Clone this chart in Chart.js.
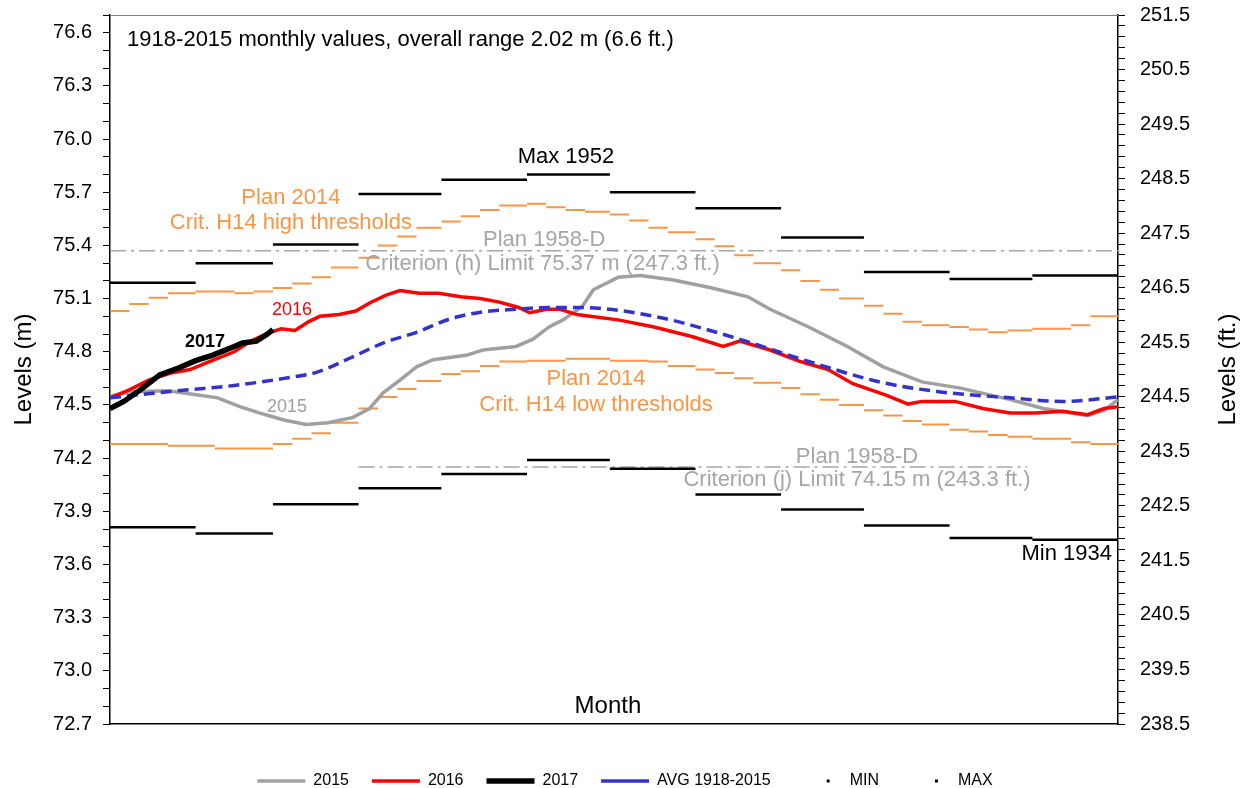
<!DOCTYPE html>
<html>
<head>
<meta charset="utf-8">
<script src="https://cdn.jsdelivr.net/npm/chart.js@4"></script>
<style>
  html, body { margin: 0; padding: 0; background: #fff; }
</style>
</head>
<body>
<canvas id="chart" width="1250" height="788"></canvas>
<script>
const FONT = "'Liberation Sans', Arial, sans-serif"
const ORANGE = '#F79646'
const GREY_TEXT = '#A6A6A6'

// month layout (day of year)
const months = ['J', 'F', 'M', 'A', 'M', 'J', 'J', 'A', 'S', 'O', 'N', 'D']
const monthStart = [0, 31, 59, 90, 120, 151, 181, 212, 243, 273, 304, 334, 365]

// daily levels (m), sampled off the chart
const days2015 = [0, 8, 21, 30, 39, 47, 54, 63, 71, 79, 88, 94, 99, 105, 111, 117, 129, 135, 147, 153, 159, 164, 171, 175, 184, 192, 204, 218, 231, 239, 253, 267, 280, 294, 308, 326, 338, 354, 360, 365]
const levels2015 = [74.55, 74.575, 74.58, 74.56, 74.54, 74.49, 74.455, 74.415, 74.39, 74.40, 74.43, 74.48, 74.57, 74.64, 74.715, 74.755, 74.78, 74.81, 74.83, 74.87, 74.94, 74.98, 75.055, 75.15, 75.22, 75.23, 75.205, 75.16, 75.11, 75.04, 74.94, 74.83, 74.715, 74.63, 74.595, 74.53, 74.48, 74.44, 74.47, 74.53]

const days2016 = [0, 7, 14, 22, 29, 36, 45, 51, 58, 62, 67, 72, 76, 83, 89, 94, 100, 105, 112, 119, 127, 134, 141, 148, 152, 158, 163, 169, 184, 197, 211, 222, 228, 239, 250, 260, 269, 281, 289, 294, 306, 316, 326, 335, 345, 354, 360, 365]
const levels2016 = [74.54, 74.585, 74.64, 74.68, 74.70, 74.745, 74.80, 74.86, 74.91, 74.93, 74.92, 74.97, 75.00, 75.01, 75.03, 75.075, 75.12, 75.145, 75.13, 75.13, 75.11, 75.10, 75.08, 75.05, 75.02, 75.04, 75.04, 75.01, 74.98, 74.94, 74.885, 74.83, 74.86, 74.81, 74.745, 74.70, 74.62, 74.555, 74.505, 74.52, 74.52, 74.48, 74.455, 74.455, 74.465, 74.445, 74.48, 74.49]

const days2017 = [0, 5, 11, 18, 25, 31, 37, 45, 48, 53, 57, 59]
const levels2017 = [74.48, 74.52, 74.585, 74.67, 74.71, 74.75, 74.78, 74.83, 74.85, 74.86, 74.90, 74.925]

const daysAvg = [0, 21, 45, 63, 75, 87, 99, 111, 123, 135, 147, 159, 170, 197, 225, 253, 280, 300, 326, 345, 365]
const levelsAvg = [74.54, 74.575, 74.61, 74.65, 74.685, 74.765, 74.85, 74.91, 74.985, 75.025, 75.04, 75.05, 75.05, 75.00, 74.885, 74.745, 74.625, 74.575, 74.54, 74.52, 74.545]

// monthly extremes 1918-2015 (m)
const monthlyMin = [73.81, 73.775, 73.94, 74.03, 74.11, 74.19, 74.14, 73.995, 73.91, 73.82, 73.75, 73.74]
const monthlyMax = [75.19, 75.30, 75.405, 75.69, 75.77, 75.80, 75.70, 75.61, 75.445, 75.25, 75.21, 75.23]

// Plan 2014 criterion H14 thresholds, by quarter-month (m)
const h14High = [75.03, 75.07, 75.105, 75.13, 75.14, 75.14, 75.13, 75.14, 75.16, 75.185, 75.22, 75.275,
  75.33, 75.40, 75.45, 75.50, 75.535, 75.565, 75.60, 75.625, 75.635, 75.615, 75.60, 75.59,
  75.575, 75.54, 75.50, 75.475, 75.435, 75.395, 75.345, 75.30, 75.26, 75.20, 75.15, 75.10,
  75.06, 75.015, 74.97, 74.95, 74.94, 74.925, 74.91, 74.92, 74.93, 74.93, 74.95, 75.00]
const h14Low = [74.28, 74.28, 74.28, 74.27, 74.27, 74.255, 74.255, 74.255, 74.28, 74.31, 74.34, 74.40,
  74.48, 74.545, 74.59, 74.635, 74.675, 74.69, 74.72, 74.745, 74.75, 74.75, 74.76, 74.76,
  74.75, 74.75, 74.745, 74.72, 74.70, 74.68, 74.65, 74.625, 74.595, 74.56, 74.53, 74.50,
  74.47, 74.44, 74.41, 74.39, 74.36, 74.35, 74.33, 74.32, 74.31, 74.31, 74.29, 74.28]

// Plan 1958-D limits (m)
const critH = 75.37
const critJ = 74.15

const monthMids = months.map((m, i) => (monthStart[i] + monthStart[i + 1]) / 2)
const qmBounds = []
for (let m = 0; m < 12; m++) {
  const s = monthStart[m]
  qmBounds.push(s, s + 7, s + 14, s + 21)
}
qmBounds.push(365)

function series (days, levels) {
  return days.map((d, i) => ({ x: d, y: levels[i] }))
}

function steps (bounds, values) {
  const pts = []
  values.forEach((v, i) => {
    pts.push({ x: bounds[i], y: v }, { x: bounds[i + 1], y: v }, { x: bounds[i + 1], y: null })
  })
  return pts
}

const notes = [
  { text: '1918-2015 monthly values, overall range 2.02 m (6.6 ft.)', day: 6.2, level: 76.56, size: 22, color: '#000', align: 'left' },
  { text: 'Max 1952', day: 165.1, level: 75.90, size: 22, color: '#000' },
  { text: 'Plan 2014', day: 65.5, level: 75.67, size: 22, color: ORANGE },
  { text: 'Crit. H14 high thresholds', day: 65.5, level: 75.527, size: 22, color: ORANGE },
  { text: 'Plan 1958-D', day: 157.2, level: 75.43, size: 22, color: GREY_TEXT },
  { text: 'Criterion (h) Limit 75.37 m (247.3 ft.)', day: 156.6, level: 75.295, size: 22, color: GREY_TEXT },
  { text: '2016', day: 65.9, level: 75.036, size: 18, color: '#FF0000' },
  { text: '2017', day: 34.4, level: 74.855, size: 18, color: '#000', bold: true },
  { text: '2015', day: 64.1, level: 74.488, size: 18, color: '#A0A0A0' },
  { text: 'Plan 2014', day: 176, level: 74.646, size: 22, color: ORANGE },
  { text: 'Crit. H14 low thresholds', day: 176, level: 74.50, size: 22, color: ORANGE },
  { text: 'Plan 1958-D', day: 270.5, level: 74.206, size: 22, color: GREY_TEXT },
  { text: 'Criterion (j) Limit 74.15 m (243.3 ft.)', day: 270.5, level: 74.077, size: 22, color: GREY_TEXT },
  { text: 'Min 1934', day: 362.8, level: 73.66, size: 22, color: '#000', align: 'right' },
  { text: 'Month', day: 180.3, level: 72.80, size: 24, color: '#000' }
]

const textLayer = {
  id: 'textLayer',
  afterDatasetsDraw (chart) {
    const { ctx, chartArea } = chart
    const x = chart.scales.x
    const y = chart.scales.y
    ctx.save()
    ctx.strokeStyle = '#808080'
    ctx.lineWidth = 1
    ctx.beginPath()
    ctx.moveTo(chartArea.left, chartArea.top + 0.5)
    ctx.lineTo(chartArea.right, chartArea.top + 0.5)
    ctx.stroke()

    ctx.textBaseline = 'middle'
    notes.forEach(n => {
      ctx.font = (n.bold ? 'bold ' : '') + n.size + 'px ' + FONT
      ctx.fillStyle = n.color
      ctx.textAlign = n.align || 'center'
      ctx.fillText(n.text, x.getPixelForValue(n.day), y.getPixelForValue(n.level))
    })

    // right axis title, same reading direction as the left one
    ctx.font = '24px ' + FONT
    ctx.fillStyle = '#000'
    ctx.textAlign = 'center'
    ctx.translate(chart.scales.y2.right - 22, (chartArea.top + chartArea.bottom) / 2)
    ctx.rotate(-Math.PI / 2)
    ctx.fillText('Levels (ft.)', 0, 0)
    ctx.restore()
  }
}

// fixed axis boxes so the plot area sits where the original has it
function fixWidth (width) {
  return (scale) => {
    scale.width = width
    scale.paddingTop = 0
    scale.paddingBottom = 0
  }
}

Chart.defaults.font.family = FONT
Chart.defaults.color = '#000'

const ctx = document.getElementById('chart').getContext('2d')
new Chart(ctx, {
  type: 'line',
  data: {
    datasets: [
      { label: '2015', data: series(days2015, levels2015), borderColor: '#A0A0A0', borderWidth: 3.5, order: 3 },
      { label: '2016', data: series(days2016, levels2016), borderColor: '#FF0000', borderWidth: 3.5, order: 2 },
      { label: '2017', data: series(days2017, levels2017), borderColor: '#000000', borderWidth: 5.5, order: 0 },
      { label: 'AVG 1918-2015', data: series(daysAvg, levelsAvg), borderColor: '#3333CC', borderWidth: 3.5, borderDash: [11, 6], cubicInterpolationMode: 'monotone', order: 1 },
      { label: 'MIN', data: steps(monthStart, monthlyMin), borderColor: '#000000', borderWidth: 2.5, order: 4 },
      { label: 'MAX', data: steps(monthStart, monthlyMax), borderColor: '#000000', borderWidth: 2.5, order: 4 },
      { label: 'H14 high', data: steps(qmBounds, h14High), borderColor: ORANGE, borderWidth: 2, order: 5 },
      { label: 'H14 low', data: steps(qmBounds, h14Low), borderColor: ORANGE, borderWidth: 2, order: 5 },
      { label: 'Crit h', data: [{ x: 0, y: critH }, { x: 365, y: critH }], borderColor: '#A6A6A6', borderWidth: 1.5, borderDash: [16, 5, 3, 5], order: 6 },
      { label: 'Crit j', data: [{ x: 90, y: critJ }, { x: 332, y: critJ }], borderColor: '#A6A6A6', borderWidth: 1.5, borderDash: [16, 5, 3, 5], order: 6 }
    ]
  },
  options: {
    responsive: false,
    animation: false,
    events: [],
    spanGaps: false,
    elements: { point: { radius: 0 }, line: { fill: false, tension: 0 } },
    layout: { padding: { top: 15, bottom: -11, left: 0, right: 0 } },
    plugins: {
      tooltip: { enabled: false },
      legend: {
        position: 'bottom',
        labels: {
          usePointStyle: true,
          pointStyle: 'line',
          pointStyleWidth: 48,
          padding: 23,
          font: { size: 16 },
          color: '#000',
          filter: (item) => item.datasetIndex < 6,
          sort: (a, b) => a.datasetIndex - b.datasetIndex,
          generateLabels (chart) {
            const items = Chart.defaults.plugins.legend.labels.generateLabels(chart)
            items.forEach(item => {
              if (item.text === 'MIN' || item.text === 'MAX') {
                item.lineDash = [0, 33, 3, 60]
                item.lineWidth = 3
              }
            })
            return items
          }
        }
      }
    },
    scales: {
      x: {
        type: 'linear',
        min: 0,
        max: 365,
        grid: { display: false },
        border: { display: true, color: '#000', width: 1.5 },
        afterBuildTicks (scale) { scale.ticks = monthMids.map(v => ({ value: v })) },
        afterFit (scale) { scale.height = 26 },
        ticks: { autoSkip: false, maxRotation: 0, padding: 18, font: { size: 20 }, callback: (v, i) => months[i] }
      },
      y: {
        type: 'linear',
        position: 'left',
        min: 72.7,
        max: 76.7,
        afterBuildTicks (scale) { scale.ticks = Array.from({ length: 41 }, (_, k) => ({ value: +(72.7 + k * 0.1).toFixed(1) })) },
        afterFit: fixWidth(110),
        grid: { drawOnChartArea: false, drawTicks: true, tickLength: 7, tickColor: '#000', color: '#000' },
        border: { color: '#000', width: 1.5 },
        ticks: { autoSkip: false, padding: 11, font: { size: 20 }, callback: (v, i) => (i % 3 === 0 ? v.toFixed(1) : '') },
        title: { display: true, text: 'Levels (m)', font: { size: 24 }, padding: { top: 10, bottom: 0 } }
      },
      y2: {
        type: 'linear',
        position: 'right',
        min: 238.5,
        max: 251.5,
        afterBuildTicks (scale) { scale.ticks = Array.from({ length: 66 }, (_, k) => ({ value: +(238.5 + k * 0.2).toFixed(1) })) },
        afterFit: fixWidth(132),
        grid: { drawOnChartArea: false, drawTicks: true, tickLength: 7, tickColor: '#000', color: '#000' },
        border: { color: '#000', width: 1.5 },
        ticks: { autoSkip: false, padding: 15, font: { size: 20 }, callback: (v, i) => (i % 5 === 0 ? v.toFixed(1) : '') }
      }
    }
  },
  plugins: [textLayer]
})
</script>
</body>
</html>
